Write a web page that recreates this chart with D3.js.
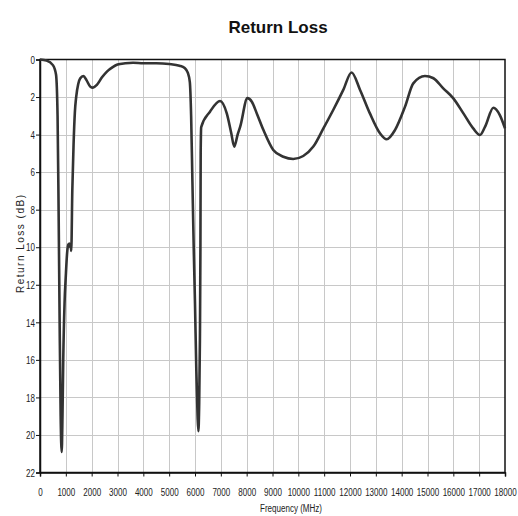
<!DOCTYPE html>
<html>
<head>
<meta charset="utf-8">
<script src="https://cdn.jsdelivr.net/npm/d3@7"></script>
<style>
  body { margin: 0; background: #fff; }
  svg { display: block; }
</style>
</head>
<body>
<svg id="chart" width="518" height="516"></svg>
<script>
// Measured return loss of the antenna, frequency in MHz, loss in dB
const freqMHz = [
  0, 250, 500, 620, 680, 720, 760, 800, 840, 870, 900, 950, 1000, 1050, 1100, 1140, 1170, 1190, 1210,
  1250, 1300, 1350, 1400, 1480, 1560, 1680, 1800, 1950, 2050, 2200, 2400, 2600, 2800, 3000, 3300, 3600,
  4000, 4500, 5000, 5400, 5600, 5720, 5800, 5850, 5900, 5950, 6000, 6050, 6100, 6130, 6160, 6190, 6210,
  6220, 6240, 6580, 6970, 7230, 7400, 7520, 7650, 7750, 8030, 8200, 8400, 8650, 9030, 9420, 9800, 10190,
  10580, 10970, 11350, 11740, 12060, 12390, 12770, 13160, 13420, 13740, 14130, 14450, 14900, 15230,
  15610, 16000, 16390, 16770, 17030, 17230, 17550, 17800, 18000
];
const returnLossDB = [
  0, 0.05, 0.3, 0.8, 3, 8, 14, 19, 20.9, 19, 16, 13, 11.5, 10.3, 9.85, 9.8, 10.0, 9.9, 10.2,
  7, 4.5, 2.8, 2.0, 1.3, 1.0, 0.88, 1.1, 1.45, 1.5, 1.35, 0.95, 0.63, 0.42, 0.27, 0.2, 0.17,
  0.2, 0.2, 0.24, 0.33, 0.45, 0.7, 1.2, 3, 6.5, 10, 13, 16.5, 19, 19.8, 18.5, 15, 10,
  5, 3.6, 2.78, 2.21, 2.87, 3.9, 4.64, 4.0, 3.58, 2.06, 2.25, 2.9, 3.76, 4.82, 5.18, 5.3, 5.14,
  4.64, 3.67, 2.69, 1.62, 0.69, 1.62, 2.87, 3.93, 4.25, 3.76, 2.51, 1.27, 0.88, 1.0,
  1.54, 2.07, 2.87, 3.67, 4.02, 3.58, 2.57, 2.96, 3.67
];
const xTicks = d3.range(0, 18001, 1000);
const yTicks = d3.range(0, 23, 2);

const chartTitle = "Return Loss";
const xTitle = "Frequency (MHz)";
const yTitle = "Return Loss (dB)";

const svg = d3.select("#chart");
const plotLeft = 40, plotRight = 505, plotTop = 59.5, plotBottom = 472.5;

const x = d3.scaleLinear().domain([0, 18000]).range([plotLeft, plotRight]);
const y = d3.scaleLinear().domain([0, 22]).range([plotTop, plotBottom]);

const sans = "'Liberation Sans', Arial, sans-serif";
const squeeze = 0.7; // horizontal scale giving a condensed face

// grid
const grid = svg.append("g").attr("stroke", "#c8c8c8").attr("stroke-width", 1);
grid.selectAll("line.v").data(xTicks.slice(1, -1)).join("line")
  .attr("x1", d => Math.round(x(d)) + 0.5).attr("x2", d => Math.round(x(d)) + 0.5)
  .attr("y1", plotTop).attr("y2", plotBottom);
grid.selectAll("line.h").data(yTicks.slice(1, -1)).join("line")
  .attr("y1", d => Math.round(y(d)) + 0.5).attr("y2", d => Math.round(y(d)) + 0.5)
  .attr("x1", plotLeft).attr("x2", plotRight);

// frame
svg.append("rect")
  .attr("x", plotLeft).attr("y", plotTop).attr("width", plotRight - plotLeft).attr("height", plotBottom - plotTop)
  .attr("fill", "none").attr("stroke", "#111").attr("stroke-width", 1.5);

// axes
const xAxis = svg.append("g").attr("transform", `translate(0,${plotBottom})`)
  .call(d3.axisBottom(x).tickValues(xTicks).tickSize(4).tickPadding(11).tickFormat(d3.format("d")));
const yAxis = svg.append("g").attr("transform", `translate(${plotLeft},0)`)
  .call(d3.axisLeft(y).tickValues(yTicks).tickSize(4).tickPadding(1).tickFormat(d3.format("d")));
[xAxis, yAxis].forEach(a => {
  a.select(".domain").attr("stroke", "#111").attr("stroke-width", 1.5);
  a.selectAll(".tick line").attr("stroke", "#111");
  a.selectAll(".tick text").attr("fill", "#222").style("font-family", sans).style("font-size", "11.5px")
    .attr("transform", `scale(${squeeze},1)`);
});
yAxis.selectAll(".tick text").attr("x", -5 / squeeze);

// curve
const pts = freqMHz.map((f, i) => [f, returnLossDB[i]]);
svg.append("path")
  .datum(pts)
  .attr("fill", "none")
  .attr("stroke", "#333")
  .attr("stroke-width", 2.6)
  .attr("stroke-linejoin", "round")
  .attr("d", d3.line().x(d => x(d[0])).y(d => y(d[1])).curve(d3.curveMonotoneX));

// titles
svg.append("text")
  .attr("x", 278).attr("y", 33)
  .attr("text-anchor", "middle")
  .style("font-family", sans)
  .style("font-weight", "bold").style("font-size", "17px")
  .attr("fill", "#111")
  .text(chartTitle);

svg.append("text")
  .attr("transform", `translate(291,512) scale(${squeeze},1)`)
  .attr("text-anchor", "middle")
  .style("font-family", sans).style("font-size", "11.5px")
  .attr("fill", "#222")
  .text(xTitle);

svg.append("text")
  .attr("transform", "translate(24,244) rotate(-90)")
  .attr("text-anchor", "middle")
  .attr("textLength", 98).attr("lengthAdjust", "spacing")
  .style("font-family", sans).style("font-size", "10px")
  .attr("fill", "#222")
  .text(yTitle);
</script>
</body>
</html>
